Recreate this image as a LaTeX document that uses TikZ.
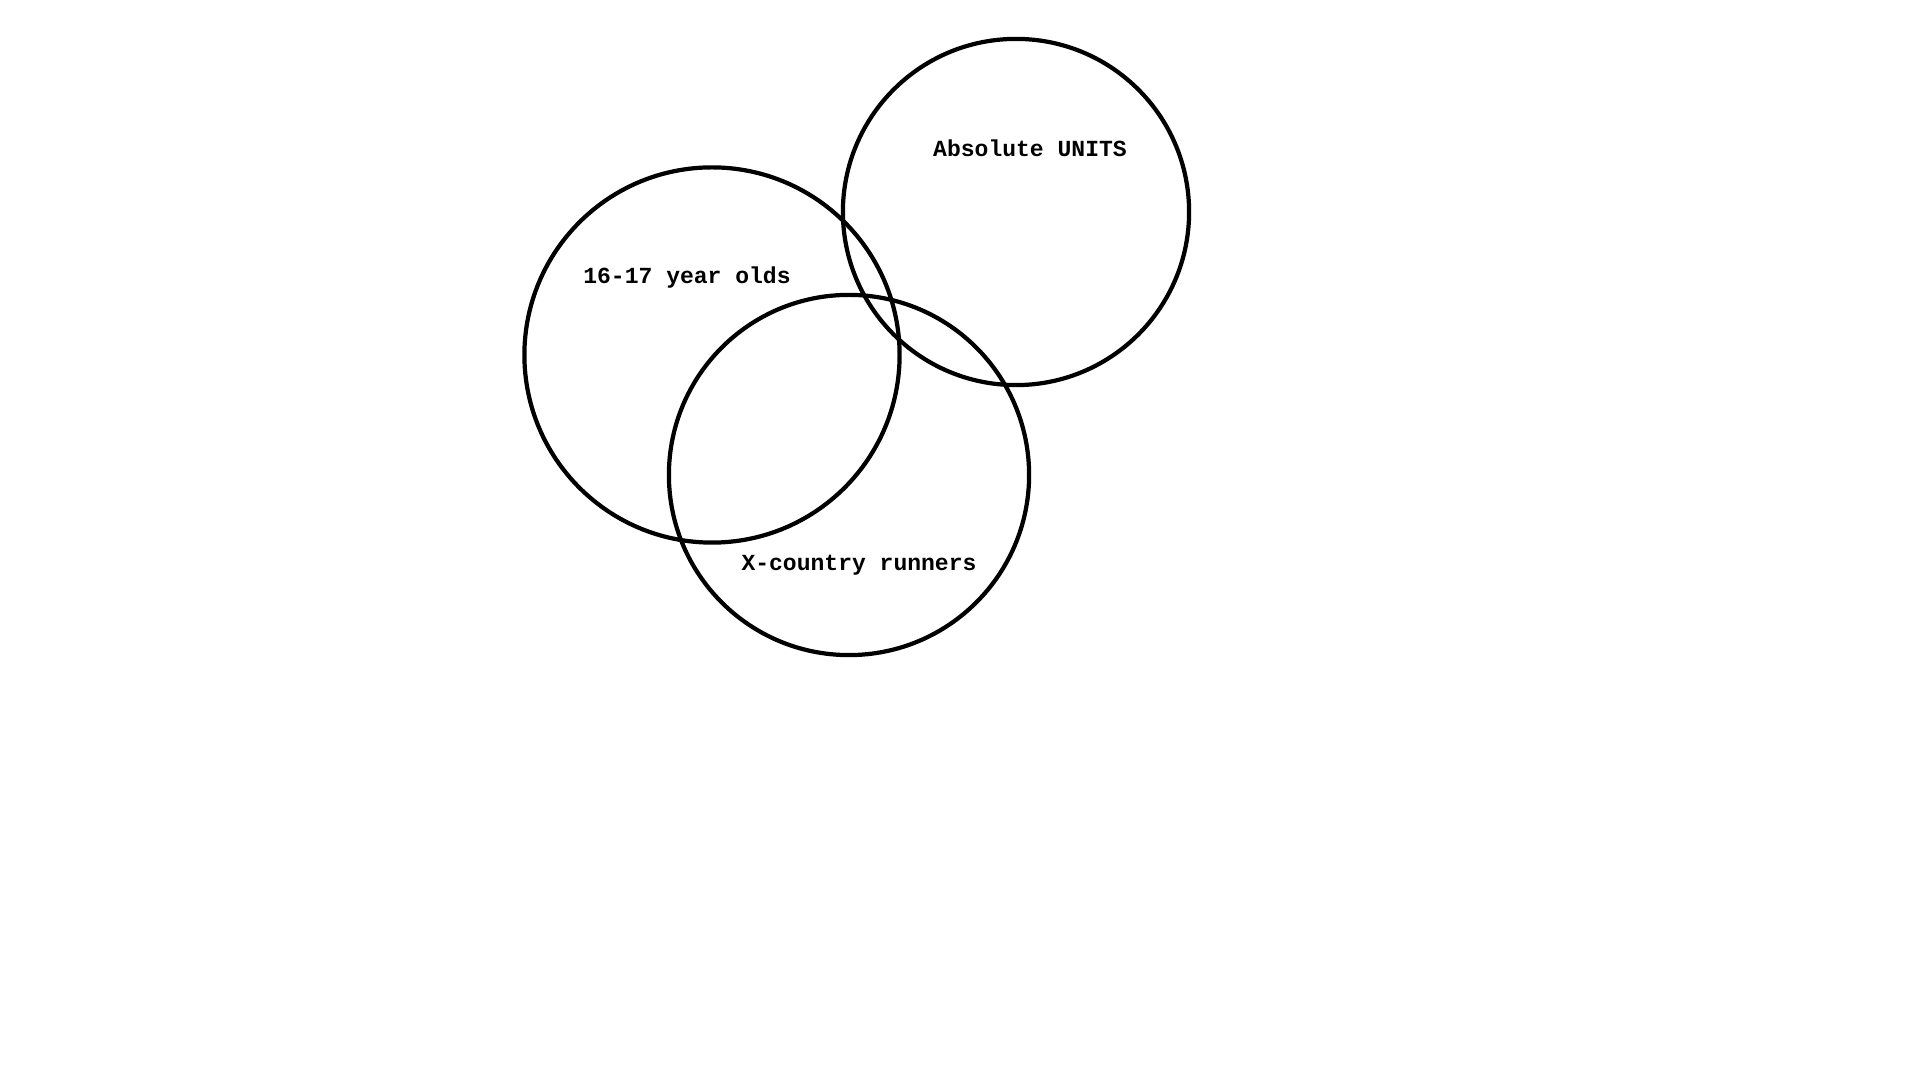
\documentclass[tikz,border=0pt]{standalone}
\usepackage{fontspec}
\setmonofont{Liberation Mono}
\begin{document}
\begin{tikzpicture}[x=0.01cm,y=-0.01cm,
  setring/.style={draw=black,line width=1.2pt,circle,inner sep=0pt,outer sep=0pt},
  setlabel/.style={font=\fontsize{6.55pt}{7pt}\ttfamily\bfseries,anchor=base,inner sep=0pt}]
  \useasboundingbox[fill=white] (0,0) rectangle (1920,1080);
  % the three sets
  \node[setring,minimum size=3.46cm] (units) at (1016,212) {};
  \node[setring,minimum size=3.75cm] (teens) at (712,355) {};
  \node[setring,minimum size=3.60cm] (runners) at (849,475) {};
  % set names
  \node[setlabel] (unitsname) at (1030,157) {Absolute UNITS};
  \node[setlabel] (teensname) at (687,284) {16-17 year olds};
  \node[setlabel] (runnersname) at (859,571) {X-country runners};
\end{tikzpicture}
\end{document}
